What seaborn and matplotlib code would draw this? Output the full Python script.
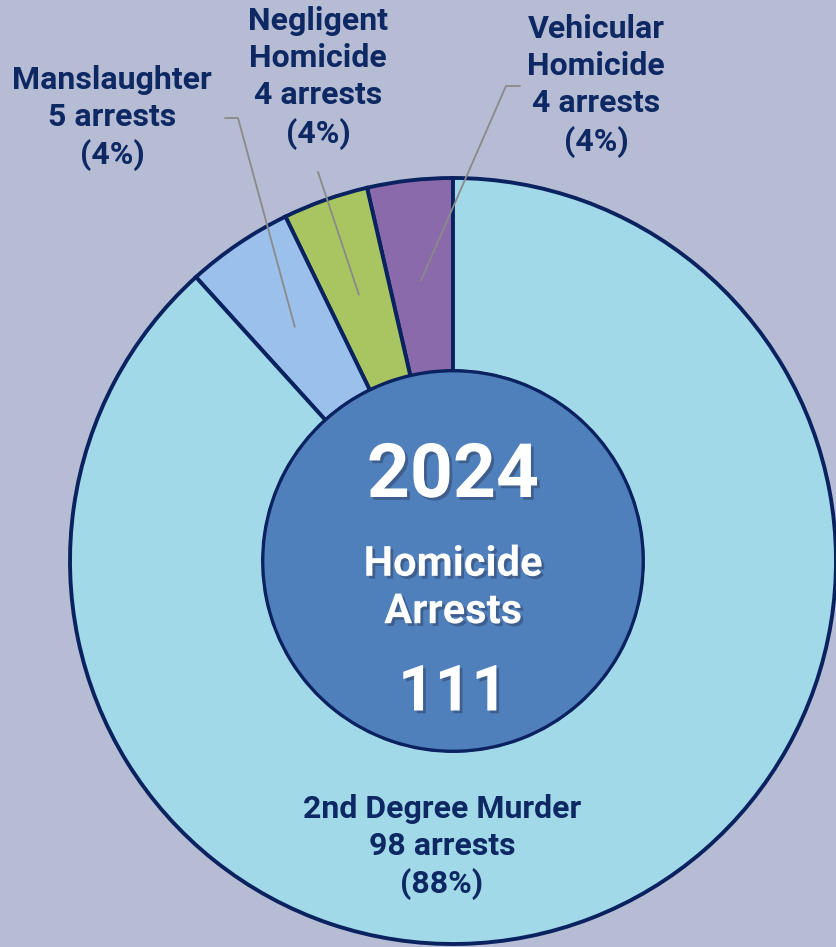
import numpy as np
import matplotlib
matplotlib.use("Agg")
import matplotlib.pyplot as plt
import matplotlib.patheffects as pe
from matplotlib.patches import Circle
import seaborn as sns

# data (pie order: counter-clockwise from 12 o'clock)
names = ['Vehicular\nHomicide', 'Negligent\nHomicide', 'Manslaughter', '2nd Degree Murder']
arrests = [4, 4, 5, 98]
pct_text = ['4%', '4%', '4%', '88%']
year = '2024'
total = sum(arrests)

slice_colors = ['#8b6aab', '#a8c562', '#9cc0ec', '#a1d9e8']
bg = '#b5bcd3'
navy = '#0b2260'
label_col = '#0d2863'
center_col = '#4f80bc'

sns.set_style('white')
plt.rcParams['font.family'] = ['Roboto', 'DejaVu Sans']

fig = plt.figure(figsize=(8.36, 9.47), dpi=100, facecolor=bg)
ax = fig.add_axes([0, 0, 1, 1])
ax.set_facecolor(bg)

# pixel-like coordinates, y up
cx, cy = 453, 947 - 561
r_out, r_in = 383, 190

wedges, _ = ax.pie(arrests, colors=slice_colors, startangle=90, counterclock=True,
                   center=(cx, cy), radius=r_out,
                   wedgeprops=dict(width=r_out - r_in, edgecolor=navy, linewidth=2.8))
ax.add_patch(Circle((cx, cy), r_in, facecolor=center_col, edgecolor=navy, lw=2, zorder=3))

ax.set_xlim(0, 836)
ax.set_ylim(0, 947)
ax.set_aspect('equal')
ax.axis('off')

# label positions (text centre) and leader start points
label_xy = [(596, 947 - 86), (318, 947 - 78), (112, 947 - 118), (442, 947 - 847)]
leader_start = [[(520, 947 - 86), (506, 947 - 86)],
                [(318, 947 - 172)],
                [(225, 947 - 118), (238, 947 - 118)],
                None]

for i, w in enumerate(wedges):
    txt = f"{names[i]}\n{arrests[i]} arrests\n({pct_text[i]})"
    ax.text(label_xy[i][0], label_xy[i][1], txt, ha='center', va='center',
            fontsize=23, fontweight='bold', color=label_col, linespacing=1.3, zorder=5)
    if leader_start[i] is not None:
        mid = np.deg2rad((w.theta1 + w.theta2) / 2)
        rr = (r_out + r_in) / 2 - 4
        end = (cx + rr * np.cos(mid), cy + rr * np.sin(mid))
        pts = leader_start[i] + [end]
        xs, ys = zip(*pts)
        ax.plot(xs, ys, color='#8a8a8a', lw=1.3, zorder=4)

shadow = [pe.withSimplePatchShadow(offset=(2, -2), shadow_rgbFace='#2a3658', alpha=0.45)]
ax.text(cx, 947 - 477, year, ha='center', va='center', fontsize=54, fontweight='bold',
        color='white', zorder=6, path_effects=shadow)
ax.text(cx, 947 - 588, 'Homicide\nArrests', ha='center', va='center', fontsize=30,
        fontweight='bold', color='white', linespacing=1.2, zorder=6, path_effects=shadow)
ax.text(cx, 947 - 693, str(total), ha='center', va='center', fontsize=46, fontweight='bold',
        color='white', zorder=6, path_effects=shadow)

fig.savefig('out.png', dpi=100, facecolor=bg)
